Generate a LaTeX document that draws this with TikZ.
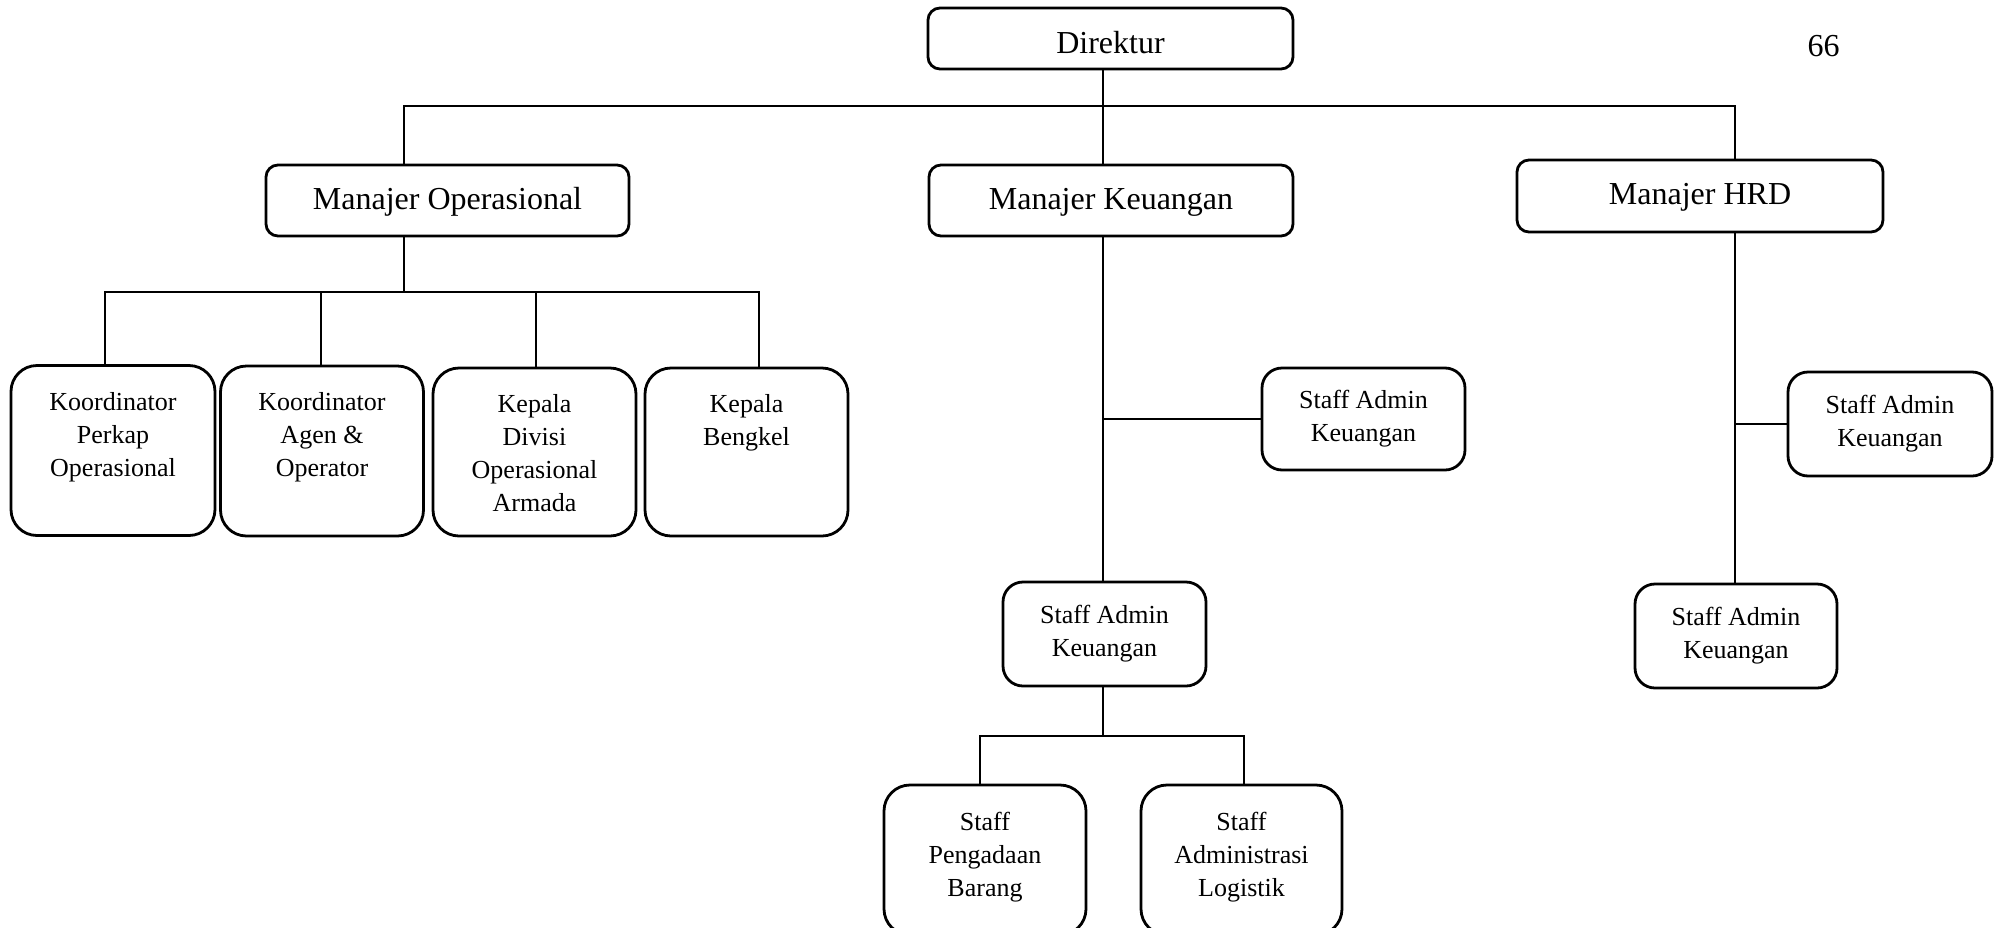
\documentclass[tikz,border=0pt]{standalone}
\usepackage{fontspec}
\setmainfont{Liberation Serif}
\begin{document}
\begin{tikzpicture}[x=1pt,y=-1pt,
  bigfont/.style={font=\fontsize{32}{38}\selectfont},
  smallfont/.style={font=\fontsize{26}{33}\selectfont},
  mgr/.style={draw, line width=2.8pt, rectangle, rounded corners=12pt, inner sep=0pt,
    bigfont, text height=22pt, text depth=5pt},
  staffbox/.style={draw, line width=2.8pt, rectangle, rounded corners=20pt, inner sep=0pt,
    smallfont, align=center},
  tallbox/.style={draw, line width=2.8pt, rectangle, rounded corners=26pt, inner sep=0pt},
  txt/.style={smallfont, align=center, inner sep=0pt, anchor=north},
  conn/.style={line width=1.3pt}
]
\fill[white] (0,0) rectangle (2003,927);
\useasboundingbox (0,0) rectangle (2003,927);

% top level
\node[mgr, minimum width=365pt, minimum height=61pt, text height=29pt, text depth=0pt] (dir) at (1110.5,38.5) {Direktur};
\node[bigfont, inner sep=0pt, anchor=base] (page) at (1823.5,56) {66};

% managers
\node[mgr, minimum width=363pt, minimum height=71pt] (mo) at (447.5,200.5) {Manajer Operasional};
\node[mgr, minimum width=364pt, minimum height=71pt] (mk) at (1111,200.5) {Manajer Keuangan};
\node[mgr, minimum width=366pt, minimum height=72pt] (mh) at (1700,196) {Manajer HRD};

% operasional children
\node[tallbox, minimum width=204pt, minimum height=170pt] (k1) at (113,450.5) {};
\node[tallbox, minimum width=203pt, minimum height=170pt] (k2) at (322,451) {};
\node[tallbox, minimum width=203pt, minimum height=168pt] (k3) at (534.5,452) {};
\node[tallbox, minimum width=203pt, minimum height=168pt] (k4) at (746.5,452) {};
\node[txt] (t1) at ([yshift=-28pt]k1.north) {Koordinator\\Perkap\\Operasional};
\node[txt] (t2) at ([yshift=-28pt]k2.north) {Koordinator\\Agen \&\\Operator};
\node[txt] (t3) at ([yshift=-28pt]k3.north) {Kepala\\Divisi\\Operasional\\Armada};
\node[txt] (t4) at ([yshift=-28pt]k4.north) {Kepala\\Bengkel};

% keuangan children
\node[staffbox, minimum width=203pt, minimum height=102pt] (sak1) at (1363.5,419) {Staff Admin\\Keuangan};
\node[staffbox, minimum width=203pt, minimum height=104pt] (sak2) at (1104.5,634) {Staff Admin\\Keuangan};
\node[tallbox, minimum width=202pt, minimum height=150pt] (sp) at (985,860) {};
\node[tallbox, minimum width=201pt, minimum height=150pt] (sl) at (1241.5,860) {};
\node[txt] (t5) at ([yshift=-28pt]sp.north) {Staff\\Pengadaan\\Barang};
\node[txt] (t6) at ([yshift=-28pt]sl.north) {Staff\\Administrasi\\Logistik};

% hrd children
\node[staffbox, minimum width=204pt, minimum height=104pt] (sah1) at (1890,424) {Staff Admin\\Keuangan};
\node[staffbox, minimum width=202pt, minimum height=104pt] (sah2) at (1736,636) {Staff Admin\\Keuangan};

% connector coordinates
\coordinate (dirx) at (1103,0);
\coordinate (mox) at (404,0);
\coordinate (hrx) at (1735,0);
\coordinate (bus) at (1103,106);
\coordinate (obus) at (404,292);
\coordinate (c1) at (105,0);
\coordinate (c2) at (321,0);
\coordinate (c3) at (536,0);
\coordinate (c4) at (759,0);
\coordinate (bbus) at (1103,736);
\coordinate (b1) at (980,0);
\coordinate (b2) at (1244,0);

% connectors
\draw[conn] (dir.south -| dirx) -- (mk.north -| dirx);
\draw[conn] (mo.north -| mox) |- (bus) -| (mh.north -| hrx);
\draw[conn] (mo.south -| mox) -- (obus);
\draw[conn] (k1.north -| c1) |- (obus) -| (k4.north -| c4);
\draw[conn] (k2.north -| c2) -- (c2 |- obus);
\draw[conn] (k3.north -| c3) -- (c3 |- obus);
\draw[conn] (mk.south -| dirx) -- (sak2.north -| dirx);
\draw[conn] (sak1.west) -- (sak1.west -| dirx);
\draw[conn] (sak2.south -| dirx) -- (bbus);
\draw[conn] (sp.north -| b1) |- (bbus) -| (sl.north -| b2);
\draw[conn] (mh.south -| hrx) -- (sah2.north -| hrx);
\draw[conn] (sah1.west) -- (sah1.west -| hrx);
\end{tikzpicture}
\end{document}
